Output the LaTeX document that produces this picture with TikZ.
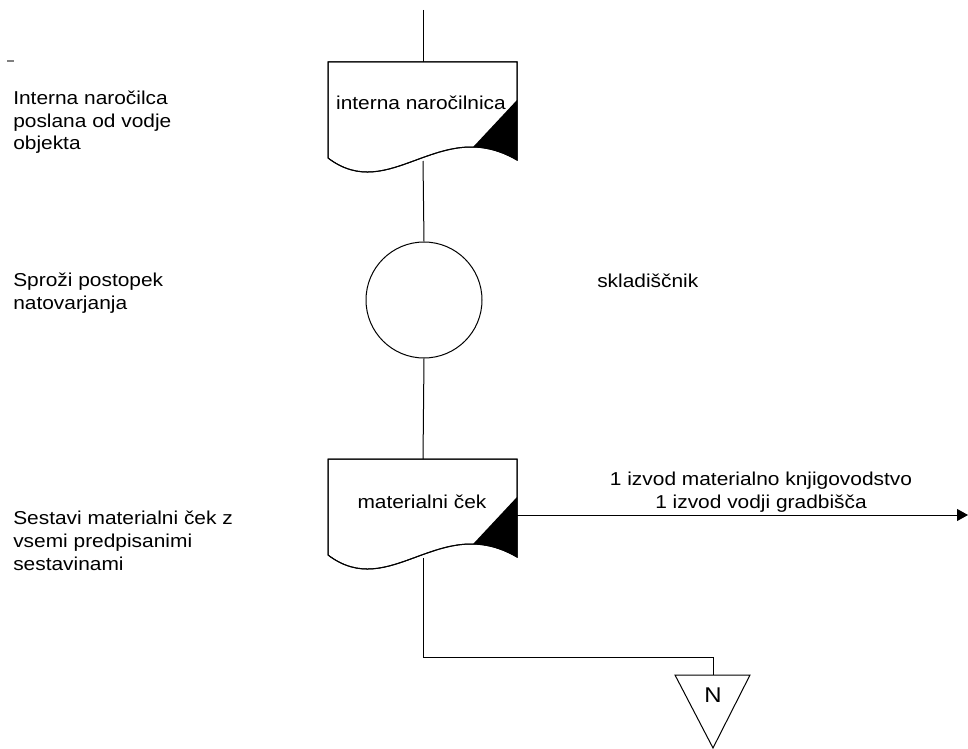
\documentclass[tikz,border=0pt]{standalone}
\usepackage{fontspec}
\setmainfont[FakeStretch=1.12]{Liberation Sans}
\usetikzlibrary{arrows.meta}
\begin{document}
\begin{tikzpicture}[x=0.75pt,y=-0.75pt,
  lbl/.style={font=\fontsize{14}{17}\selectfont, align=left, anchor=base west, inner sep=0pt},
  ctext/.style={font=\fontsize{14}{17}\selectfont, inner sep=0pt, anchor=base},
  ln/.style={draw=black, line width=0.75pt},
  docshape/.style={draw=black, line width=0.75pt, fill=white}]
\useasboundingbox (0,0) rectangle (968,749);
% small dash
\draw[gray, line width=1pt] (7,61) -- (14,61);
% document 1
\def\docpath{(328,62) -- (517,62) -- (517,160) .. controls (440,115) and (390,205) .. (328,158) -- cycle}
\coordinate (top) at (423,10);
\coordinate (d1top) at (423,62);
\coordinate (d1bot) at (423,161);
\draw[docshape] \docpath;
\begin{scope}
  \clip \docpath;
  \fill[black] (517,100) -- (417,207) -- (520,207) -- (520,100) -- cycle;
\end{scope}
\draw[line width=0.75pt] \docpath;
\node[ctext] (d1) at (421,110) {interna naročilnica};
% circle
\node[draw, line width=0.75pt, circle, minimum size=87pt, inner sep=0pt] (c) at (424,300) {};
% document 2
\begin{scope}[yshift=-297.75pt]
\def\docpathb{(328,62) -- (517,62) -- (517,160) .. controls (440,115) and (390,205) .. (328,158) -- cycle}
\draw[docshape] \docpathb;
\begin{scope}
  \clip \docpathb;
  \fill[black] (517,100) -- (417,207) -- (520,207) -- (520,100) -- cycle;
\end{scope}
\draw[line width=0.75pt] \docpathb;
\coordinate (d2top) at (423,62);
\coordinate (d2bot) at (423,161);
\coordinate (d2right) at (517,118);
\end{scope}
\node[ctext] (d2) at (422,508) {materialni ček};
% triangle N
\coordinate (t1) at (675,675);
\coordinate (t2) at (750,675);
\coordinate (t3) at (713,748);
\draw[line width=0.75pt] (t1) -- (t2) -- (t3) -- cycle;
\coordinate (ttop) at (713,675);
\node[ctext, font=\fontsize{16}{18}\selectfont] (n) at (713,702) {N};
% connectors
\draw[ln] (top) -- (d1top);
\draw[ln] (d1bot) -- (c.north);
\draw[ln] (c.south) -- (d2top);
\draw[ln] (d2bot) |- (713,657) -- (ttop);
\coordinate (arrend) at (968,515);
\draw[ln, -{Triangle[length=8.25pt, width=9pt]}] (d2right) -- (arrend);
% labels (base anchor = baseline of last line)
\node[lbl] (l1) at (13,150) {Interna naročilca\\poslana od vodje\\objekta};
\node[lbl] (l2) at (13,309) {Sproži postopek\\natovarjanja};
\node[lbl] (l3) at (13,570) {Sestavi materialni ček z\\vsemi predpisanimi\\sestavinami};
\node[lbl] (sk) at (597,287) {skladiščnik};
\node[ctext, align=center] (al) at (761,508) {1 izvod materialno knjigovodstvo\\1 izvod vodji gradbišča};
\end{tikzpicture}
\end{document}
